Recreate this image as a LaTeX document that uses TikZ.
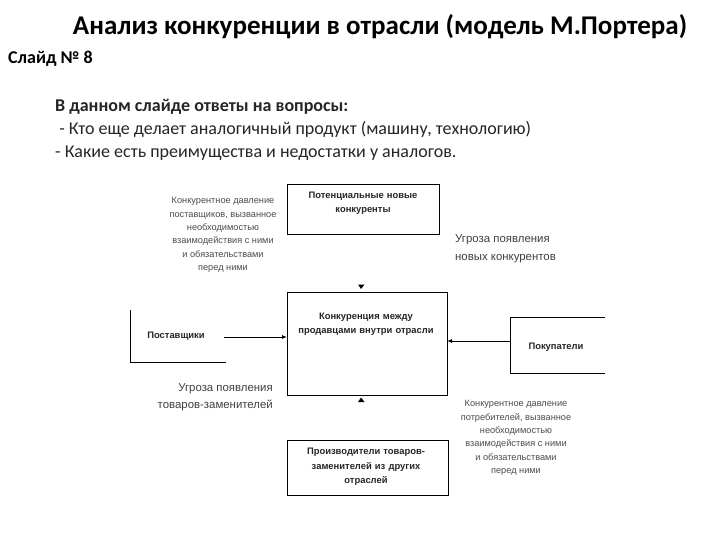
\documentclass[tikz,border=0pt]{standalone}
\usepackage{fontspec}
\setmainfont{Carlito}
\newfontfamily\arialf{Liberation Sans}
\usetikzlibrary{arrows.meta}
\begin{document}
\begin{tikzpicture}[x=1pt,y=-1pt,
  boxstyle/.style={draw=black, line width=0.9pt},
  lbl/.style={font=\arialf\fontsize{9.4}{14.5}\selectfont\bfseries, text=black!85, align=center, inner sep=0pt},
  note/.style={font=\arialf\fontsize{9.2}{13.4}\selectfont, text=black!70, align=center, inner sep=0pt},
  threat/.style={font=\arialf\fontsize{11.4}{17.5}\selectfont, text=black!75, inner sep=0pt},
  conn/.style={draw=black, line width=0.9pt, -{Latex[length=5pt,width=4pt]}}]
\useasboundingbox (0,0) rectangle (720,540);
\fill[white] (0,0) rectangle (720,540);
% heading
\node[font=\fontsize{27}{30}\selectfont\bfseries, anchor=center] (title) at (380,27) {Анализ конкуренции в отрасли (модель М.Портера)};
\node[font=\fontsize{18}{20}\selectfont\bfseries, anchor=west, inner sep=0pt] (slide) at (8,59) {Слайд № 8};
\node[font=\fontsize{18}{22.8}\selectfont, anchor=north west, align=left, inner sep=0pt, text=black!85] (body) at (55,99)
  {\textbf{В данном слайде ответы на вопросы:}\\
   \ - Кто еще делает аналогичный продукт (машину, технологию)\\
   - Какие есть преимущества и недостатки у аналогов.};
% boxes
\draw[boxstyle] (287,184) rectangle (439,234);
\node[lbl, text width=150pt] (newc) at (363,203) {Потенциальные новые\\конкуренты};
\draw[boxstyle] (287,292) rectangle (447,395);
\node[lbl, text width=158pt] (rival) at (366,324) {Конкуренция между\\продавцами внутри отрасли};
\coordinate (rivleft) at (287,337);
\coordinate (rivright) at (447,341);
\draw[boxstyle] (287,440) rectangle (448,495);
\node[lbl, text width=160pt] (subst) at (366,467) {Производители товаров-\\заменителей из других\\отраслей};
% suppliers
\draw[boxstyle] (130,310) -- (130,362) -- (226,362);
\node[lbl] (supp) at (176,336) {Поставщики};
\coordinate (suppout) at (224,337);
\draw[conn] (suppout) -- (rivleft);
% buyers
\draw[boxstyle] (605,317) -- (510,317) -- (510,373) -- (605,373);
\node[lbl] (buy) at (556,347) {Покупатели};
\coordinate (buyout) at (510,341);
\draw[conn] (buyout) -- (rivright);
% small arrowheads at rival box
\fill[black] (358,284.5) -- (364.5,284.5) -- (361,289) -- cycle;
\fill[black] (358,402) -- (364.5,402) -- (361,397.5) -- cycle;
% notes
\node[note] (n1) at (223,235) {Конкурентное давление\\поставщиков, вызванное\\необходимостью\\взаимодействия с ними\\и обязательствами\\перед ними};
\node[threat, anchor=west, align=left] (t1) at (455,249) {Угроза появления\\новых конкурентов};
\node[threat, anchor=east, align=right] (t2) at (273,397.5) {Угроза появления\\товаров-заменителей};
\node[note] (n2) at (516,438) {Конкурентное давление\\потребителей, вызванное\\необходимостью\\взаимодействия с ними\\и обязательствами\\перед ними};
\end{tikzpicture}
\end{document}
